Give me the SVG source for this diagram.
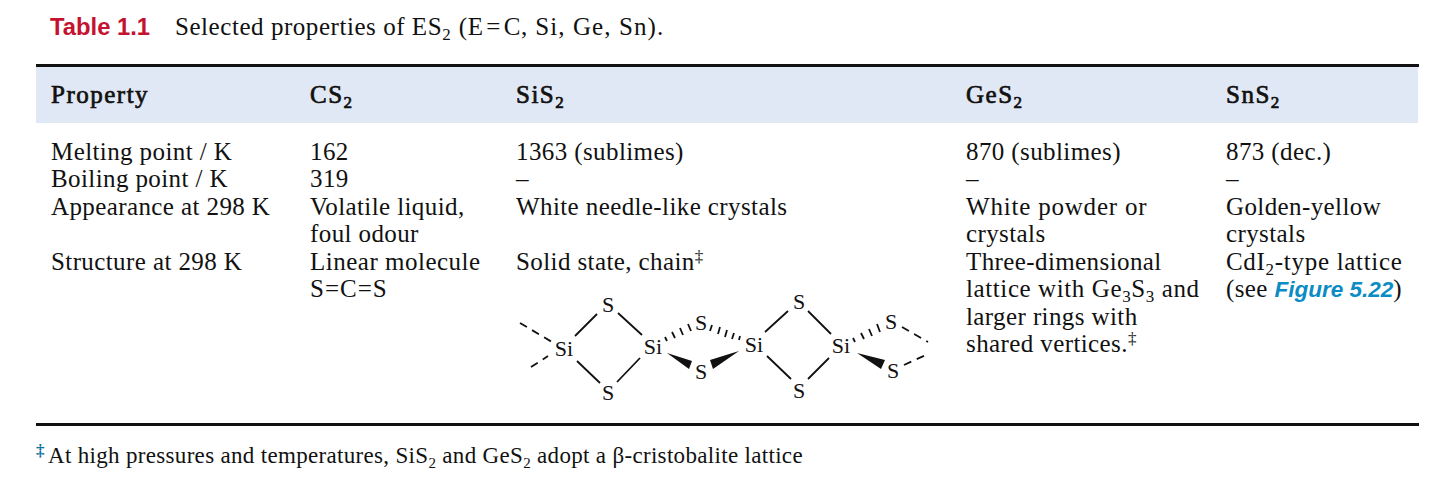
<svg xmlns="http://www.w3.org/2000/svg" width="1445" height="478" viewBox="0 0 1445 478">
<style>
text{font-family:"Liberation Serif","Times New Roman",serif;font-size:25px;letter-spacing:.4px;fill:#111}
.h{font-size:25px;letter-spacing:1.5px;stroke:#111;stroke-width:.7px}
.a{font-size:22px;letter-spacing:0;text-anchor:middle}
.b{stroke:#111;stroke-width:1.8;fill:none}
.d{stroke:#111;stroke-width:1.8;fill:none;stroke-dasharray:8 6}
.t{stroke:#111;stroke-width:1.8}
.s{font-size:17px}
</style>
<rect width="1445" height="478" fill="#fff"/>
<g id="title">
<text x="50" y="35" style="font-family:'Liberation Sans',sans-serif;font-size:23.8px;letter-spacing:0;font-weight:700;fill:#c4122f">Table 1.1</text>
<text x="175" y="35" style="letter-spacing:.55px">Selected properties of ES<tspan class="s" dy="5">2</tspan><tspan dy="-5" x="456" style="word-spacing:-4px"> (E = C,</tspan><tspan style="letter-spacing:1.1px"> Si, Ge, Sn).</tspan></text>
</g>
<g id="table-frame">
<rect x="36" y="67" width="1382" height="56" fill="#e1e8f5"/>
<rect x="36" y="64" width="1383" height="3" fill="#111"/>
<rect x="36" y="423" width="1383" height="3" fill="#111"/>
</g>
<g id="header">
<text class="h" x="51" y="103">Property</text>
<text class="h" x="310" y="103">CS<tspan class="s" dy="5">2</tspan></text>
<text class="h" x="516" y="103">SiS<tspan class="s" dy="5">2</tspan></text>
<text class="h" x="966" y="103">GeS<tspan class="s" dy="5">2</tspan></text>
<text class="h" x="1226" y="103">SnS<tspan class="s" dy="5">2</tspan></text>
</g>
<g id="col-property">
<text x="51" y="160">Melting point / K</text>
<text x="51" y="187">Boiling point / K</text>
<text x="51" y="215">Appearance at 298 K</text>
<text x="51" y="270">Structure at 298 K</text>
</g>
<g id="col-cs2">
<text x="310" y="160">162</text>
<text x="310" y="187">319</text>
<text x="310" y="215">Volatile liquid,</text>
<text x="310" y="242">foul odour</text>
<text x="310" y="270" style="letter-spacing:.5px">Linear molecule</text>
<text x="310" y="297" style="letter-spacing:1px">S=C=S</text>
</g>
<g id="col-sis2">
<text x="516" y="160">1363 (sublimes)</text>
<text x="516" y="187">–</text>
<text x="516" y="215">White needle-like crystals</text>
<text x="516" y="270">Solid state, chain<tspan class="s" dy="-8">‡</tspan></text>
</g>
<g id="col-ges2">
<text x="966" y="160">870 (sublimes)</text>
<text x="966" y="187">–</text>
<text x="966" y="215" style="letter-spacing:.8px">White powder or</text>
<text x="966" y="242">crystals</text>
<text x="966" y="270">Three-dimensional</text>
<text x="966" y="297" style="letter-spacing:.6px">lattice with Ge<tspan class="s" dy="5">3</tspan><tspan dy="-5">S</tspan><tspan class="s" dy="5">3</tspan><tspan dy="-5"> and</tspan></text>
<text x="966" y="325">larger rings with</text>
<text x="966" y="352">shared vertices.<tspan class="s" dy="-8">‡</tspan></text>
</g>
<g id="col-sns2">
<text x="1226" y="160">873 (dec.)</text>
<text x="1226" y="187">–</text>
<text x="1226" y="215">Golden-yellow</text>
<text x="1226" y="242">crystals</text>
<text x="1226" y="270" style="letter-spacing:.7px">CdI<tspan class="s" dy="5">2</tspan><tspan dy="-5">-type lattice</tspan></text>
<text x="1226" y="297">(see <tspan style="font-family:'Liberation Sans',sans-serif;font-size:22.5px;font-weight:700;font-style:italic;letter-spacing:0;fill:#0a8cc4">Figure 5.22</tspan>)</text>
</g>
<g id="connectors">
<path class="b" d="M575 336L597 314M618 313L642 335M577 361L600 383M617 382L640 358M765 332L788 311M808 311L831 334M767 356L791 379M808 379L829 358"/>
<path class="d" d="M520 323L552 342M531 367L548 356M902 327L928 342M904 365L928 354"/>
<path class="t" d="M665 337L667 341M672 332L675 338M680 328L683 335M688 324L691 331M712 325L710 331M720 327L718 334M727 330L725 337M734 333L732 339M740 336L739 340M853 338L855 342M861 333L864 339M869 329L872 336M877 324L880 332"/>
<path fill="#111" d="M667 353L692 361L689 369ZM739 351L710 360L713 369ZM857 353L885 360L881 369Z"/>
</g>
<g id="atoms">
<text class="a" x="564" y="356">Si</text>
<text class="a" x="608" y="312">S</text>
<text class="a" x="608" y="400">S</text>
<text class="a" x="653" y="354">Si</text>
<text class="a" x="701" y="330">S</text>
<text class="a" x="701" y="379">S</text>
<text class="a" x="754" y="352">Si</text>
<text class="a" x="799" y="309">S</text>
<text class="a" x="799" y="398">S</text>
<text class="a" x="841" y="353">Si</text>
<text class="a" x="891" y="329">S</text>
<text class="a" x="893" y="378">S</text>
</g>
<g id="footnote">
<text x="36" y="456" style="font-size:17px;font-weight:700;letter-spacing:0;fill:#0a6f9e">‡</text>
<text x="48" y="463" style="font-size:23px;letter-spacing:.32px">At high pressures and temperatures, SiS<tspan dy="5" style="font-size:15px">2</tspan><tspan dy="-5"> and GeS</tspan><tspan dy="5" style="font-size:15px">2</tspan><tspan dy="-5"> adopt a β-cristobalite lattice</tspan></text>
</g>
</svg>
